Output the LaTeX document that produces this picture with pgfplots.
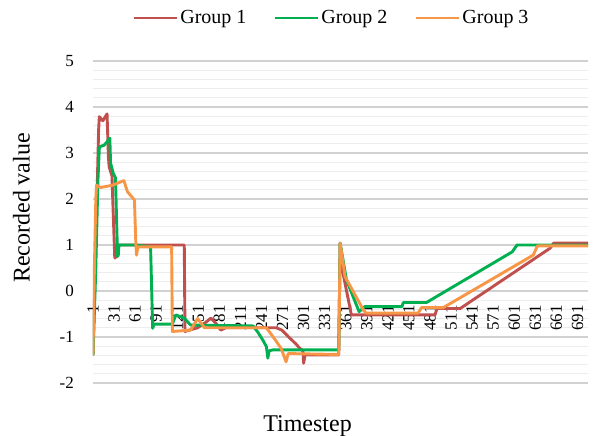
\documentclass[border=0pt]{standalone}
\usepackage{fontspec}
\setmainfont{Liberation Serif}
\usepackage{pgfplots}
\pgfplotsset{compat=1.18}
\definecolor{gone}{RGB}{192,80,77}
\definecolor{gtwo}{RGB}{0,176,80}
\definecolor{gthree}{RGB}{247,150,70}
\begin{document}
\begin{tikzpicture}
\begin{axis}[
  scale only axis, width=495pt, height=322pt,
  xmin=1, xmax=706, ymin=-2, ymax=5,
  axis line style={draw=none},
  major tick length=0pt, minor tick length=0pt,
  no markers,
  xtick={1,31,...,691},
  xticklabels={1,31,61,91,121,151,181,211,241,271,301,331,361,391,421,451,481,511,541,571,601,631,661,691},
  xticklabel style={font=\fontsize{17}{19}\selectfont, inner sep=0pt, yshift=78pt, rotate=90, anchor=east},
  ytick={-2,-1,0,1,2,3,4,5},
  yticklabels={-2,-1,0,1,2,3,4,5},
  yticklabel style={font=\fontsize{17}{19}\selectfont, inner sep=0pt, xshift=-19pt},
  minor y tick num=4,
  ymajorgrids, yminorgrids,
  major grid style={color=black!18, line width=1.1pt},
  minor grid style={color=black!7, line width=1pt},
  xlabel={Timestep},
  xlabel style={at={([xshift=-33pt,yshift=-49pt]rel axis cs:0.5,0)}, anchor=base, font=\fontsize{24}{28}\selectfont},
  ylabel={Recorded value},
  ylabel style={at={([xshift=-71.5pt,yshift=14pt]rel axis cs:0,0.5)}, anchor=center, font=\fontsize{24}{28}\selectfont},
  legend style={at={([xshift=-9pt,yshift=43pt]rel axis cs:0.5,1)}, anchor=center, draw=none, fill=none,
    font=\fontsize{20}{22}\selectfont, legend columns=3, inner sep=0pt,
    /tikz/every even column/.append style={column sep=25pt}},
  legend image code/.code={\draw[#1] (0pt,0pt) -- (43pt,0pt);},
]
\addplot[gone, line width=2.9pt, line join=round] coordinates {
(1,-1.4) (5,1.0) (9,3.5) (10,3.79) (15,3.7) (21,3.85) (23,2.9) (24,2.7) (28,2.5) (30,1.6) (32,0.72) (33,0.72) (34,1.0) (131,1.0) (132,-0.88) (138,-0.85) (150,-0.8) (160,-0.7) (169,-0.59) (176,-0.7) (183,-0.85) (190,-0.8) (262,-0.8) (270,-0.85) (281,-1.02) (290,-1.15) (295,-1.24) (300,-1.3) (301,-1.57) (303,-1.39) (351,-1.39) (353,1.04) (357,0.39) (369,-0.52) (488,-0.52) (491,-0.38) (524,-0.38) (652,0.93) (657,1.04) (706,1.04)
};
\addlegendentry{Group 1}
\addplot[gtwo, line width=2.9pt, line join=round] coordinates {
(1,-1.4) (5,0.5) (8,2.4) (10,3.1) (11,3.14) (17,3.17) (25,3.32) (26,2.78) (30,2.55) (33,2.46) (36,0.75) (37,0.78) (38,1.0) (60,1.0) (83,0.96) (86,-0.81) (88,-0.72) (114,-0.72) (119,-0.52) (131,-0.59) (140,-0.74) (229,-0.76) (236,-0.9) (243,-1.07) (248,-1.21) (250,-1.46) (252,-1.3) (257,-1.28) (351,-1.28) (353,1.04) (362,0.24) (380,-0.45) (388,-0.34) (441,-0.34) (443,-0.25) (476,-0.25) (598,0.85) (605,1.0) (706,1.0)
};
\addlegendentry{Group 2}
\addplot[gthree, line width=2.9pt, line join=round] coordinates {
(1,-1.4) (3,0.5) (5,2.0) (6,2.3) (12,2.25) (29,2.3) (45,2.4) (50,2.16) (60,1.98) (62,1.04) (63,0.78) (65,0.96) (113,0.96) (114,-0.88) (140,-0.85) (150,-0.6) (160,-0.8) (248,-0.8) (260,-1.05) (269,-1.25) (276,-1.54) (279,-1.36) (351,-1.38) (353,1.04) (360,0.31) (386,-0.41) (390,-0.48) (464,-0.48) (469,-0.36) (500,-0.36) (628,0.78) (634,0.98) (706,0.98)
};
\addlegendentry{Group 3}
\end{axis}
\pgfresetboundingbox
\path (-93pt,-53pt) rectangle (505pt,383pt);
\end{tikzpicture}
\end{document}
